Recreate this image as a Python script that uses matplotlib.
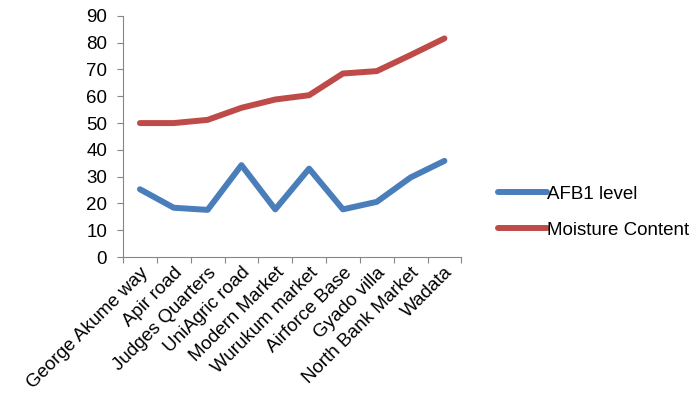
import numpy as np
import matplotlib.pyplot as plt

plt.rcParams['font.family'] = ['Liberation Sans', 'DejaVu Sans']

sites = ['George Akume way', 'Apir road', 'Judges Quarters', 'UniAgric road',
         'Modern Market', 'Wurukum market', 'Airforce Base', 'Gyado villa',
         'North Bank Market', 'Wadata']
afb1 = [25.3, 18.4, 17.6, 34.3, 17.8, 33.0, 17.8, 20.6, 29.7, 35.9]
moisture = [50.0, 50.0, 51.2, 55.7, 58.8, 60.4, 68.5, 69.4, 75.4, 81.6]

fs = 13.5

fig = plt.figure(figsize=(6.99, 4.08), dpi=100)
ax = fig.add_axes([0.176, 0.37, 0.484, 0.591])

x = np.arange(len(sites))
ax.plot(x, afb1, color='#4A7EBB', lw=4.3, solid_capstyle='round', label='AFB1 level')
ax.plot(x, moisture, color='#BE4B48', lw=4.3, solid_capstyle='round', label='Moisture Content')

ax.set_xlim(-0.5, len(sites) - 0.5)
ax.set_ylim(0, 90)
ax.set_yticks(range(0, 91, 10))
ax.set_xticks(np.arange(-0.5, len(sites), 1))
ax.set_xticklabels([])
ax.set_xticks(x, minor=True)
ax.set_xticklabels(sites, minor=True, rotation=45, ha='right', rotation_mode='anchor')
ax.tick_params(axis='x', which='minor', length=0, pad=5, labelsize=fs)
ax.tick_params(axis='x', which='major', length=4.5, color='#868686')
ax.tick_params(axis='y', length=4.5, color='#868686', labelsize=fs, pad=7)

for s in ['top', 'right']:
    ax.spines[s].set_visible(False)
for s in ['left', 'bottom']:
    ax.spines[s].set_color('#868686')

fig.legend(loc='center left', bbox_to_anchor=(0.688, 0.48), frameon=False,
           fontsize=fs, handlelength=2.6, handletextpad=0.05, labelspacing=1.0)

fig.savefig('out.png', dpi=100)
